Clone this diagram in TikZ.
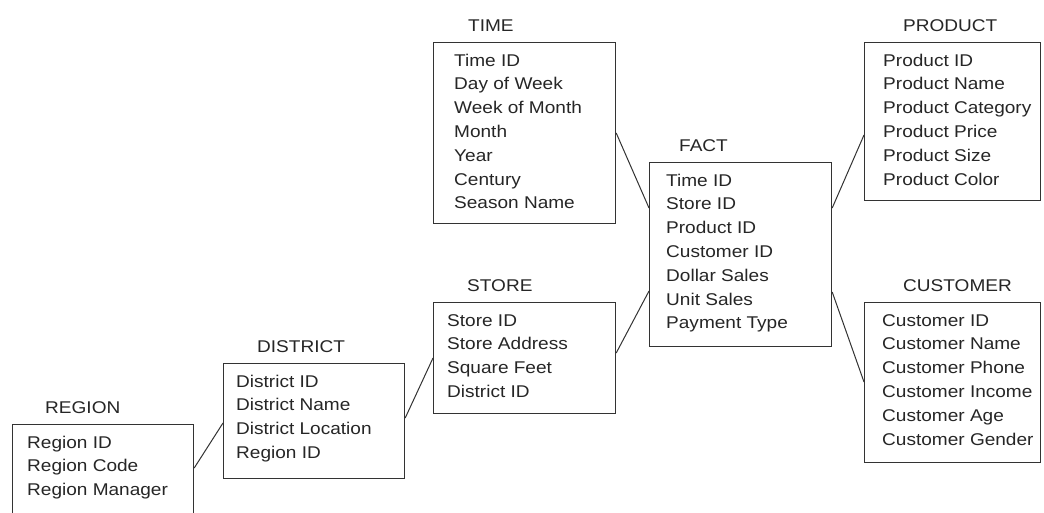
\documentclass[tikz,border=0pt]{standalone}
\usepackage{fontspec}
\setmainfont[FakeStretch=1.12]{Liberation Sans}
\usetikzlibrary{calc}
\tikzset{
  box/.style={draw=black!80, line width=1.2pt, rectangle, inner sep=0pt, anchor=north west},
  ttl/.style={anchor=base west, inner sep=0pt, font=\fontsize{17}{20}\selectfont, text=black!85},
  fld/.style={anchor=base west, inner sep=0pt, font=\fontsize{17}{20}\selectfont, text=black!85},
  link/.style={draw=black!80, line width=1pt}
}
% name x y w h title titleoff textoff lines
\newcommand\entity[9]{%
  \node[box, minimum width=#4, minimum height=#5] (#1) at (#2,#3) {};
  \node[ttl] (#1-title) at ({#2+#7},{#3-11}) {#6};
  \foreach \t [count=\i] in {#9} {\node[fld] (#1-\i) at ({#2+#8},{#3+24+(\i-1)*23.8}) {\t};}
}
\begin{document}
\begin{tikzpicture}[x=1pt,y=-1pt]
\useasboundingbox (0,0) rectangle (1044,512);
\clip (0,0) rectangle (1044,512);
\fill[white] (0,0) rectangle (1044,512);
\entity{region}{12}{424}{181}{100}{REGION}{33}{15}{Region ID,Region Code,Region Manager}
\entity{district}{223}{363}{181}{115}{DISTRICT}{34}{13}{District ID,District Name,District Location,Region ID}
\entity{store}{433}{302}{182}{111}{STORE}{34}{14}{Store ID,Store Address,Square Feet,District ID}
\entity{time}{433}{42}{182}{181}{TIME}{35}{21}{Time ID,Day of Week,Week of Month,Month,Year,Century,Season Name}
\entity{fact}{649}{162}{182}{184}{FACT}{30}{17}{Time ID,Store ID,Product ID,Customer ID,Dollar Sales,Unit Sales,Payment Type}
\entity{product}{864}{42}{176}{158}{PRODUCT}{39}{19}{Product ID,Product Name,Product Category,Product Price,Product Size,Product Color}
\entity{customer}{864}{302}{176}{160}{CUSTOMER}{39}{18}{Customer ID,Customer Name,Customer Phone,Customer Income,Customer Age,Customer Gender}
\draw[link] ($(region.north east)+(0,44)$) -- ($(district.north west)+(0,60)$);
\draw[link] ($(district.north east)+(0,55)$) -- ($(store.north west)+(0,56)$);
\draw[link] ($(time.north east)+(0,91)$) -- ($(fact.north west)+(0,46)$);
\draw[link] ($(store.north east)+(0,51)$) -- ($(fact.north west)+(0,129)$);
\draw[link] ($(fact.north east)+(0,46)$) -- ($(product.north west)+(0,93)$);
\draw[link] ($(fact.north east)+(0,130)$) -- ($(customer.north west)+(0,80)$);
\end{tikzpicture}
\end{document}
